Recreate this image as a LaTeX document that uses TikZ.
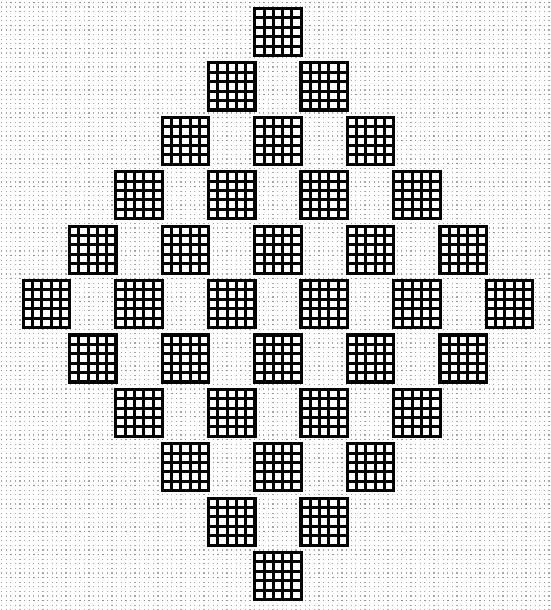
\documentclass[tikz,border=0pt]{standalone}
\begin{document}
\begin{tikzpicture}[x=1pt,y=-1pt,
  dotrow/.style={draw=gray!70,line width=1.2pt,dash pattern=on 1.2pt off 3.4pt},
  heavyrow/.style={draw=gray!85,line width=1.3pt,dash pattern=on 1.3pt off 3.3pt},
  cellline/.style={draw=black,line width=3pt},
  blockframe/.style={draw=black,line width=3.2pt}]
\useasboundingbox (0,0) rectangle (550,610);
\fill[white] (0,0) rectangle (550,610);
% dotted background
\foreach \j in {0,...,132}{
  \draw[dotrow] (1,{2.5+\j*4.6}) -- (550,{2.5+\j*4.6});
}
\foreach \j in {0,...,26}{
  \draw[heavyrow] (1,{2.5+\j*23}) -- (550,{2.5+\j*23});
}
% blocks
\foreach \r in {0,...,10}{
  \pgfmathtruncatemacro\nb{\r<=5 ? \r+1 : 11-\r}
  \foreach \k in {1,...,\nb}{
    \pgfmathsetmacro\cx{278+(\k-(\nb+1)/2)*92.6}
    \pgfmathsetmacro\cy{32+54.4*\r}
    \begin{scope}[shift={(\cx-23.25,\cy-23.5)}]
      \fill[white] (0,0) rectangle (46.5,47);
      \foreach \i in {1,...,4}{
        \draw[cellline] ({\i*9.3},0) -- ({\i*9.3},47);
        \draw[cellline] (0,{\i*9.4}) -- (46.5,{\i*9.4});
      }
      \draw[blockframe] (0,0) rectangle (46.5,47);
    \end{scope}
  }
}
\end{tikzpicture}
\end{document}
